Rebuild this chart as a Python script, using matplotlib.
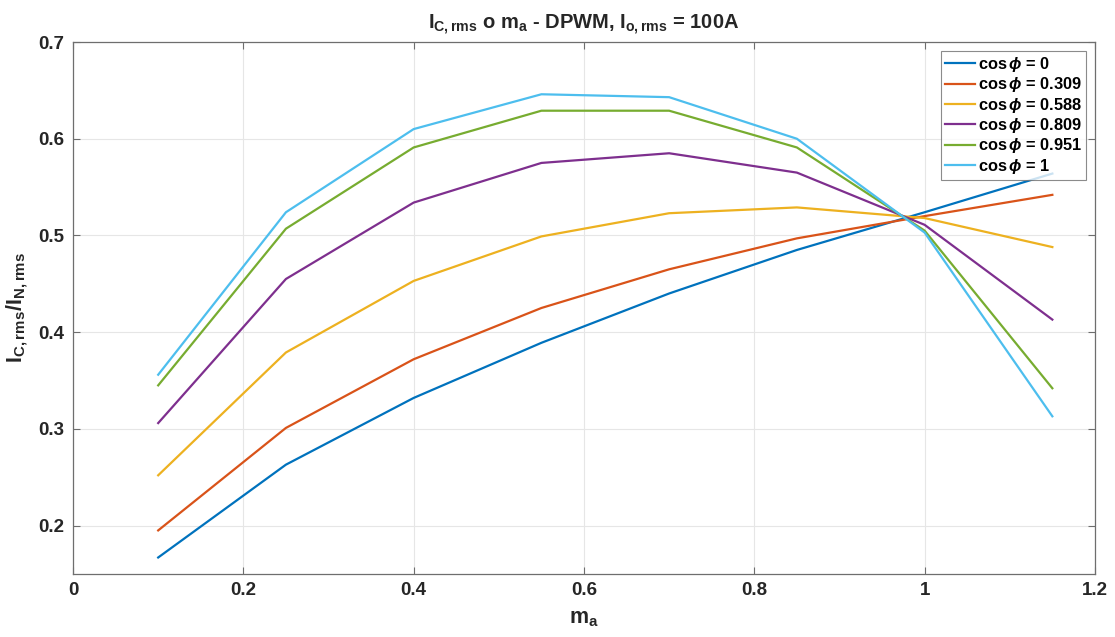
import matplotlib
matplotlib.use("Agg")
import matplotlib.pyplot as plt

ma = [0.1, 0.25, 0.4, 0.55, 0.7, 0.85, 1.0, 1.15]
cos_labels = ["0", "0.309", "0.588", "0.809", "0.951", "1"]
ic_cos0 = [0.167, 0.263, 0.332, 0.389, 0.440, 0.485, 0.524, 0.564]
ic_cos0309 = [0.195, 0.301, 0.372, 0.425, 0.465, 0.497, 0.520, 0.542]
ic_cos0588 = [0.252, 0.379, 0.453, 0.499, 0.523, 0.529, 0.518, 0.488]
ic_cos0809 = [0.306, 0.455, 0.534, 0.575, 0.585, 0.565, 0.511, 0.413]
ic_cos0951 = [0.345, 0.507, 0.591, 0.629, 0.629, 0.591, 0.505, 0.342]
ic_cos1 = [0.356, 0.524, 0.610, 0.646, 0.643, 0.600, 0.503, 0.313]
series = [ic_cos0, ic_cos0309, ic_cos0588, ic_cos0809, ic_cos0951, ic_cos1]
colors = ["#0072BD", "#D95319", "#EDB120", "#7E2F8E", "#77AC30", "#4DBEEE"]

plt.rcParams['font.family'] = ['Liberation Sans', 'DejaVu Sans']
plt.rcParams['font.weight'] = 'bold'
plt.rcParams['mathtext.fontset'] = 'custom'
plt.rcParams['mathtext.rm'] = 'Liberation Sans:bold'
plt.rcParams['mathtext.bf'] = 'Liberation Sans:bold'
plt.rcParams['mathtext.it'] = 'Liberation Sans:bold:italic'
plt.rcParams['mathtext.default'] = 'rm'

fig = plt.figure(figsize=(11.15, 6.37), dpi=100)
ax = fig.add_axes([0.0655, 0.099, 0.9165, 0.835])

for s, c, lab in zip(series, colors, cos_labels):
    ax.plot(ma, s, color=c, lw=1.6, label=r'cos$\,\mathit{\phi}$ = ' + lab)

ax.set_xlim(0, 1.2)
ax.set_ylim(0.15, 0.7)
ax.set_xticks([0, 0.2, 0.4, 0.6, 0.8, 1.0, 1.2])
ax.set_xticklabels(["0", "0.2", "0.4", "0.6", "0.8", "1", "1.2"])
ax.set_yticks([0.2, 0.3, 0.4, 0.5, 0.6, 0.7])
ax.grid(True, color='#e6e6e6', lw=0.8)
ax.set_axisbelow(True)
for sp in ax.spines.values():
    sp.set_color('#6e6e6e')
    sp.set_linewidth(0.9)
ax.tick_params(direction='in', length=5, labelsize=13.5, colors='#6e6e6e',
               labelcolor='#262626', top=True, right=True, pad=6)
for t in ax.get_xticklabels() + ax.get_yticklabels():
    t.set_fontweight('bold')

ax.set_title(r'I$_{C,rms}$ o m$_a$ - DPWM, I$_{o,rms}$ = 100A', fontsize=14.5,
             fontweight='bold', pad=9, color='#262626')
ax.set_xlabel(r'm$_a$', fontsize=15.5, fontweight='bold', labelpad=6, color='#262626')
ax.set_ylabel(r'I$_{C,rms}$/I$_{N,rms}$', fontsize=15.5, fontweight='bold', labelpad=6, color='#262626')

leg = ax.legend(loc='upper right', fontsize=11.8, frameon=True, fancybox=False,
                edgecolor='#6e6e6e', handlelength=1.85, handletextpad=0.15,
                borderpad=0.25, labelspacing=0.08, borderaxespad=0.55)
leg.get_frame().set_linewidth(0.8)
for t in leg.get_texts():
    t.set_fontweight('bold')

fig.savefig('out.png', dpi=100)
